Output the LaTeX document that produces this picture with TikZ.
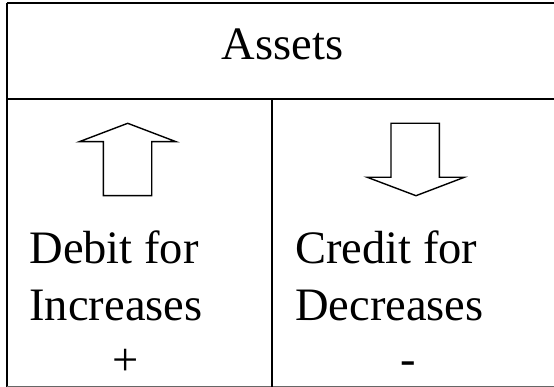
\documentclass[tikz,border=0pt]{standalone}
\usepackage{fontspec}
\setmainfont{Liberation Serif}
\begin{document}
\begin{tikzpicture}[x=1pt,y=-1pt,
  rule/.style={line width=1.6pt,black},
  bigarrow/.style={line width=1.4pt,black,miter limit=10},
  label/.style={inner sep=0pt,font=\fontsize{46.5}{56}\selectfont}]
\useasboundingbox (0,0) rectangle (554,387);
\begin{scope}
\clip (0,0) rectangle (554,387);
% table frame
\draw[rule] (6.7,3.3) -- (560,3.3);
\draw[rule] (6.7,3.3) -- (6.7,386.5);
\draw[rule,line width=1.2pt,black!60] (6.7,386.5) -- (560,386.5);
\draw[rule] (6.7,99.3) -- (560,99.3);
\draw[rule] (271.7,99.3) -- (271.7,386.5);
\end{scope}
% header
\node[label,anchor=base] (assets) at (282.5,59.3) {Assets};
% arrows
\draw[bigarrow] (127.7,123.3) -- (176,141.7) -- (151.7,141.7) -- (151.7,195.7)
  -- (103.3,195.7) -- (103.3,141.7) -- (79.3,141.7) -- cycle;
\draw[bigarrow] (391,123.3) -- (439.3,123.3) -- (439.3,177.3) -- (464.3,177.3)
  -- (416,195.7) -- (367.3,177.3) -- (391,177.3) -- cycle;
% left column
\node[label,anchor=base west] (debit) at (29.3,263.3) {Debit for};
\node[label,anchor=base west] (incr) at (29.3,320) {Increases};
\node[label,anchor=center] (plus) at (125.7,362.7) {+};
% right column
\node[label,anchor=base west] (credit) at (295,263.3) {Credit for};
\node[label,anchor=base west] (decr) at (295,320) {Decreases};
\node[label,anchor=base] (minus) at (408.3,374.5) {-};
\end{tikzpicture}
\end{document}
